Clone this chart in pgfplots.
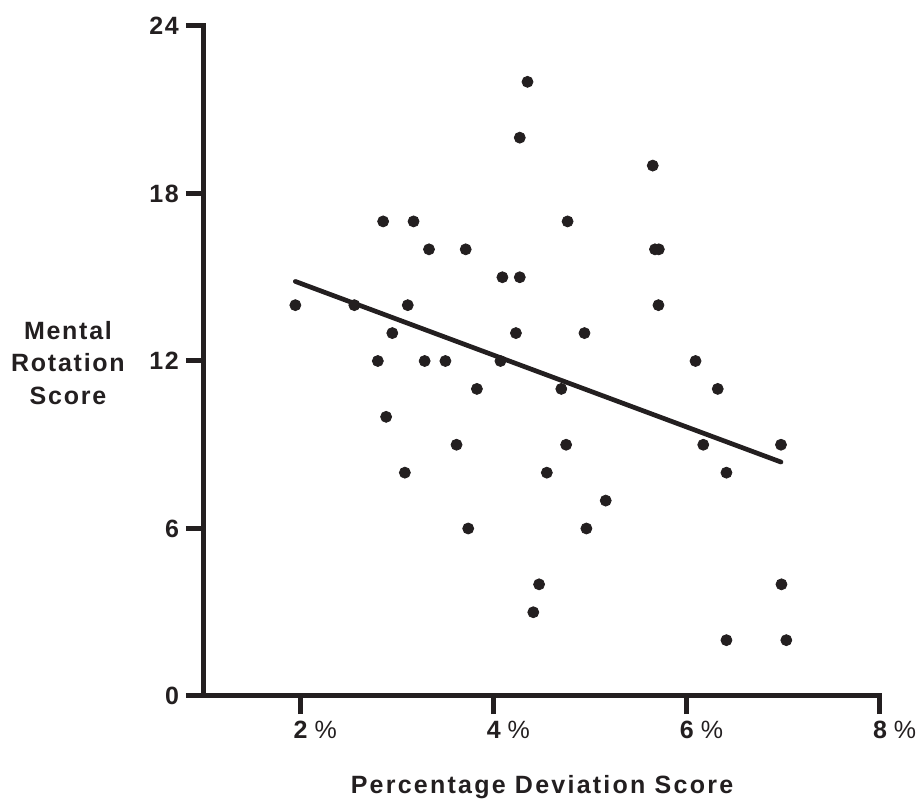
\documentclass[border=0pt]{standalone}
\usepackage{pgfplots}
\pgfplotsset{compat=1.18}
\usepackage{fontspec}
\setmainfont{Liberation Sans}
\newfontfamily\lab[LetterSpace=7]{Liberation Sans}
\newfontfamily\labx[LetterSpace=9]{Liberation Sans}
\definecolor{ink}{HTML}{231F20}
\begin{document}
\begin{tikzpicture}
\useasboundingbox (-102pt,-54pt) rectangle (357pt,348pt);
\begin{axis}[
  at={(0,0)}, anchor=south west,
  scale only axis, width=338pt, height=335pt,
  xmin=1, xmax=8, ymin=0, ymax=24,
  clip=false,
  axis x line*=bottom, axis y line*=left,
  axis line style={ink, line width=2.5pt, line cap=rect, -},
  xtick={2,4,6,8}, ytick={0,6,12,18,24},
  tick align=outside, major tick length=9pt,
  tick style={ink, line width=2.5pt},
  /pgf/number format/assume math mode=true,
  tick label style={font=\lab\fontsize{12.5}{15}\selectfont, text=ink},
  xticklabel={{\bfseries\pgfmathprintnumber{\tick}}\rlap{\hspace{3.5pt}\%}},
  yticklabel={\bfseries\pgfmathprintnumber{\tick}},
  xlabel={Percentage Deviation Score},
  ylabel={Mental\\Rotation\\Score},
  every axis x label/.style={at={(axis description cs:0.5,0)}, anchor=base, yshift=-49pt,
    font=\labx\bfseries\fontsize{12.5}{15}\selectfont, text=ink},
  every axis y label/.style={at={(axis description cs:-0.2012,0.497)}, anchor=center, align=center,
    font=\lab\bfseries\fontsize{12.5}{16.3}\selectfont, text=ink},
]
\addplot[only marks, mark=*, mark size=2.75pt, color=ink, mark options={fill=ink, draw=ink}] table {
x y
1.946 14
2.557 14
2.80 12
2.855 17
2.886 10
2.95 13
3.08 8
3.11 14
3.17 17
3.285 12
3.33 16
3.50 12
3.615 9
3.71 16
3.736 6
3.826 11
4.07 12
4.09 15
4.23 13
4.27 15
4.27 20
4.35 22
4.41 3
4.47 4
4.55 8
4.70 11
4.75 9
4.765 17
4.94 13
4.96 6
5.16 7
5.647 19
5.67 16
5.71 16
5.706 14
6.09 12
6.17 9
6.32 11
6.41 8
6.41 2
6.975 9
6.98 4
7.03 2
};
\addplot[color=ink, line width=2.35pt, line cap=round] coordinates {(1.946,14.85) (6.975,8.38)};
\end{axis}
\end{tikzpicture}
\end{document}
